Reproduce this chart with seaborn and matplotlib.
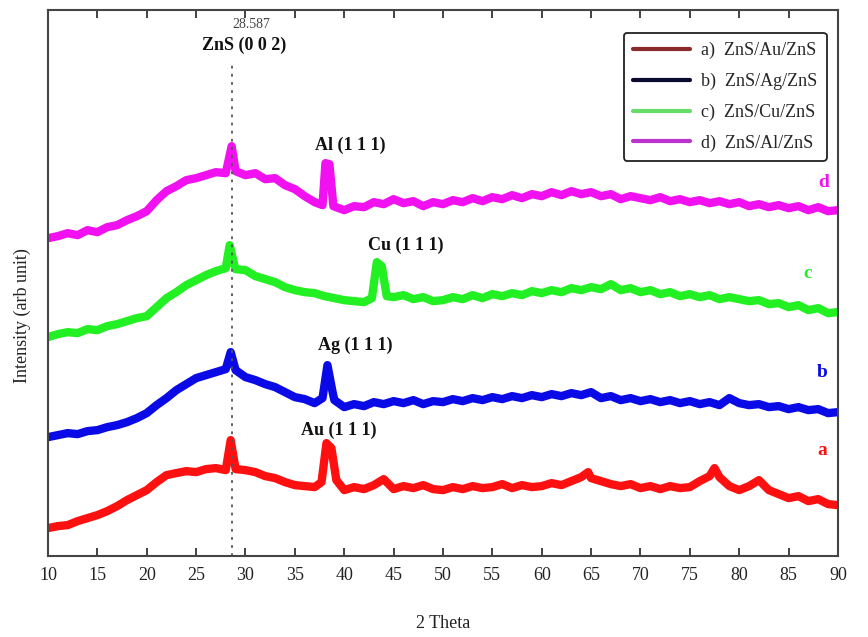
import matplotlib
matplotlib.use("Agg")
import matplotlib.pyplot as plt
import seaborn as sns
import pandas as pd
from matplotlib.lines import Line2D

# ---------------- data (intensity in arbitrary units) ----------------
x_a = [10, 11, 12, 13, 14, 15, 16, 17, 18, 19, 20, 21, 22, 23, 24, 25, 26, 27, 28, 28.5, 29, 30,
       31, 32, 33, 34, 35, 36, 37, 37.7, 38.2, 38.7, 39.2, 40, 41, 42, 43, 44, 45, 46, 47, 48, 49,
       50, 51, 52, 53, 54, 55, 56, 57, 58, 59, 60, 61, 62, 63, 64, 64.7, 65, 66, 67, 68, 69, 70,
       71, 72, 73, 74, 75, 76, 77, 77.5, 78, 79, 80, 81, 82, 83, 84, 85, 86, 87, 88, 89, 90]
y_a = [28, 30, 31, 35, 38, 41, 45, 50, 56, 61, 66, 74, 81, 83, 85, 84, 87, 88, 86, 116, 87, 86,
       84, 80, 78, 74, 71, 70, 69, 74, 113, 108, 76, 66, 69, 67, 71, 77, 67, 70, 68, 71, 67,
       66, 69, 67, 70, 68, 69, 72, 68, 71, 69, 70, 73, 71, 75, 79, 84, 78, 75, 72, 70, 72, 68,
       70, 67, 70, 68, 69, 75, 80, 88, 79, 70, 66, 70, 76, 66, 62, 58, 60, 55, 57, 52, 51]

x_b = [10, 11, 12, 13, 14, 15, 16, 17, 18, 19, 20, 21, 22, 23, 24, 25, 26, 27, 28, 28.5, 29, 30,
       31, 32, 33, 34, 35, 36, 37, 37.8, 38.3, 38.8, 39, 40, 41, 42, 43, 44, 45, 46, 47, 48, 49,
       50, 51, 52, 53, 54, 55, 56, 57, 58, 59, 60, 61, 62, 63, 64, 65, 66, 67, 68, 69, 70,
       71, 72, 73, 74, 75, 76, 77, 78, 79, 80, 81, 82, 83, 84, 85, 86, 87, 88, 89, 90]
y_b = [119, 121, 123, 122, 125, 126, 129, 131, 134, 138, 143, 151, 158, 166, 172, 178, 181, 184, 187, 204, 186, 179,
       176, 172, 169, 164, 159, 157, 153, 158, 191, 165, 156, 149, 152, 150, 154, 152, 155, 153, 156, 152, 155,
       154, 157, 155, 158, 156, 159, 157, 160, 158, 161, 159, 162, 160, 163, 161, 164, 158, 160, 156, 158, 155,
       157, 154, 156, 153, 155, 152, 154, 151, 158, 153, 151, 152, 149, 150, 147, 149, 146, 147, 143, 144]

x_c = [10, 11, 12, 13, 14, 15, 16, 17, 18, 19, 20, 21, 22, 23, 24, 25, 26, 27, 28, 28.4, 28.9, 29, 30,
       31, 32, 33, 34, 35, 36, 37, 38, 39, 40, 41, 42, 42.8, 43.3, 43.8, 44.3, 45, 46, 47, 48, 49,
       50, 51, 52, 53, 54, 55, 56, 57, 58, 59, 60, 61, 62, 63, 64, 65, 66, 67, 68, 69, 70,
       71, 72, 73, 74, 75, 76, 77, 78, 79, 80, 81, 82, 83, 84, 85, 86, 87, 88, 89, 90]
y_c = [219, 222, 224, 223, 227, 226, 230, 232, 235, 238, 240, 249, 258, 264, 271, 276, 281, 285, 288, 311, 290, 287, 286,
       280, 277, 274, 269, 266, 264, 263, 260, 258, 256, 255, 254, 258, 294, 290, 260, 259, 261, 257, 259, 255,
       256, 259, 257, 261, 258, 262, 260, 263, 261, 265, 263, 266, 264, 268, 266, 269, 267, 272, 266, 268, 264,
       266, 262, 264, 260, 262, 259, 261, 257, 259, 257, 255, 256, 252, 253, 249, 251, 246, 248, 243, 244]

x_d = [10, 11, 12, 13, 14, 15, 16, 17, 18, 19, 20, 21, 22, 23, 24, 25, 26, 27, 28, 28.6, 29, 30,
       31, 32, 33, 34, 35, 36, 37, 37.8, 38.1, 38.5, 38.9, 40, 41, 42, 43, 44, 45, 46, 47, 48, 49,
       50, 51, 52, 53, 54, 55, 56, 57, 58, 59, 60, 61, 62, 63, 64, 65, 66, 67, 68, 69, 70,
       71, 72, 73, 74, 75, 76, 77, 78, 79, 80, 81, 82, 83, 84, 85, 86, 87, 88, 89, 90]
y_d = [318, 320, 323, 321, 326, 324, 329, 331, 336, 340, 345, 356, 365, 370, 376, 378, 381, 384, 383, 410, 385, 381,
       383, 377, 378, 371, 367, 360, 354, 351, 393, 392, 350, 346, 350, 349, 354, 352, 357, 353, 355, 350, 354,
       352, 356, 354, 358, 355, 359, 357, 361, 358, 362, 360, 364, 361, 365, 362, 364, 360, 362, 357, 360, 358,
       356, 359, 355, 357, 354, 356, 353, 355, 352, 354, 350, 352, 349, 351, 348, 350, 346, 349, 345, 346]

series_names = ["a", "b", "c", "d"]
legend_labels = ["a)  ZnS/Au/ZnS", "b)  ZnS/Ag/ZnS", "c)  ZnS/Cu/ZnS", "d)  ZnS/Al/ZnS"]
peak_labels = ["Au (1 1 1)", "Ag (1 1 1)", "Cu (1 1 1)", "Al (1 1 1)"]
zns_peak = 28.587

# ---------------- styling ----------------
line_colors = ["#ff1010", "#0a0ae6", "#22f022", "#f010f0"]
legend_colors = ["#8b2a2a", "#0a0a30", "#66dd66", "#bb33cc"]

sns.set_theme(style="white")
plt.rcParams["font.family"] = ["Liberation Serif", "DejaVu Serif"]

fig = plt.figure(figsize=(8.68, 6.37), dpi=100)
ax = fig.add_axes([0.0553, 0.127, 0.9101, 0.857])

frames = []
for name, xs, ys in zip(series_names, [x_a, x_b, x_c, x_d], [y_a, y_b, y_c, y_d]):
    frames.append(pd.DataFrame({"theta": xs, "intensity": ys, "sample": name}))
df = pd.concat(frames, ignore_index=True)

for name, col in zip(series_names, line_colors):
    sub = df[df["sample"] == name]
    sns.lineplot(data=sub, x="theta", y="intensity", color=col, linewidth=6,
                 legend=False, ax=ax, estimator=None, sort=False)

ax.set_xlim(10, 90)
ax.set_ylim(0, 546)
ax.set_xticks(list(range(10, 91, 5)))
ax.set_yticks([])
ax.tick_params(axis="x", direction="in", top=True, bottom=True, length=6, width=1.2,
               labelsize=13, pad=8, colors="#222222")
for s in ax.spines.values():
    s.set_visible(True)
    s.set_color("#444444")
    s.set_linewidth(1.5)

ax.set_xlabel("2 Theta", fontsize=13, labelpad=22, color="#222222")
ax.set_ylabel("Intensity (arb unit)", fontsize=13, color="#222222")
ax.yaxis.set_label_coords(-0.022, 0.44)

# dotted reference line
ax.plot([zns_peak, zns_peak], [0, 492], linestyle=(0, (1.5, 3)), color="#555555", linewidth=1.3)
ax.text(zns_peak + 2.0, 532, "28.587", fontsize=10, ha="center", va="center", color="#444444")
ax.text(zns_peak + 1.3, 511, "ZnS (0 0 2)", fontsize=13, fontweight="bold", ha="center",
        va="center", color="#111111")

# peak labels
peak_pos = [(39.4, 126), (41.1, 211), (46.2, 311), (40.6, 411)]
for lab, (px, py) in zip(peak_labels, peak_pos):
    ax.text(px, py, lab, fontsize=13, fontweight="bold", ha="center", va="center", color="#111111")

# curve letters
letter_pos = [(88.4, 106), (88.4, 184), (86.9, 283), (88.6, 374)]
for name, (lx, ly), col in zip(series_names, letter_pos, line_colors):
    ax.text(lx, ly, name, fontsize=14, fontweight="bold", ha="center", va="center", color=col)

handles = [Line2D([0], [0], color=c, linewidth=3) for c in legend_colors]
leg = ax.legend(handles, legend_labels, loc="upper right", bbox_to_anchor=(0.997, 0.975),
                fontsize=13, frameon=True, fancybox=True, edgecolor="#222222",
                handlelength=3.2, labelspacing=0.75, borderpad=0.5, handletextpad=0.6)
leg.get_frame().set_linewidth(1.3)
leg.get_frame().set_alpha(1)

fig.savefig("out.png", dpi=100, facecolor="white")
